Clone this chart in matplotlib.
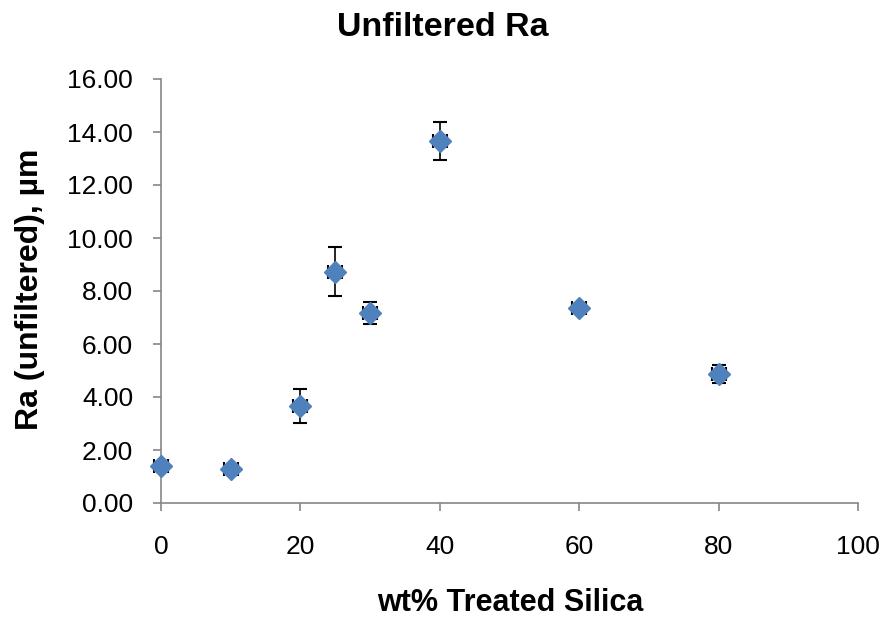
import matplotlib
matplotlib.use("Agg")
import matplotlib.pyplot as plt
from matplotlib.ticker import FormatStrFormatter

plt.rcParams['font.family'] = ['Liberation Sans', 'DejaVu Sans']

wt_silica = [0, 10, 20, 25, 30, 40, 60, 80]
ra_unfiltered = [1.41, 1.28, 3.66, 8.73, 7.16, 13.67, 7.37, 4.86]
ra_err = [0.12, 0.12, 0.64, 0.92, 0.41, 0.71, 0.15, 0.33]
wt_err = [1.0, 1.0, 1.0, 1.0, 1.0, 1.0, 1.0, 1.0]
y_ticks = [0, 2, 4, 6, 8, 10, 12, 14, 16]
x_ticks = [0, 20, 40, 60, 80, 100]

W, H = 886, 621
fig = plt.figure(figsize=(W / 100, H / 100), dpi=100)
ax = fig.add_axes([161 / W, 1 - 503 / H, (858 - 161) / W, (503 - 79) / H])

ax.errorbar(wt_silica, ra_unfiltered, yerr=ra_err, xerr=wt_err, fmt='D',
            color='#4F81BD', markersize=11, ecolor='black', elinewidth=1.2,
            capsize=5, capthick=1.5, zorder=3, clip_on=False)

ax.set_xlim(0, 100)
ax.set_ylim(0, 16)
ax.set_xticks(x_ticks)
ax.set_yticks(y_ticks)
ax.yaxis.set_major_formatter(FormatStrFormatter('%.2f'))

for s in ['top', 'right']:
    ax.spines[s].set_visible(False)
for s in ['left', 'bottom']:
    ax.spines[s].set_color('#868686')
    ax.spines[s].set_linewidth(1.2)

ax.tick_params(axis='both', direction='out', length=6, width=1.2, color='#868686',
               labelsize=19)
ax.tick_params(axis='y', pad=14)
ax.tick_params(axis='x', pad=17)

fig.text(0.5, 1 - 36 / H, 'Unfiltered Ra', fontsize=24.5, fontweight='bold',
         ha='center', va='baseline')
fig.text(510 / W, 1 - 603 / H, 'wt% Treated Silica', fontsize=22,
         fontweight='bold', ha='center', va='center')
fig.text(30 / W, 1 - 289 / H, 'Ra (unfiltered), µm', fontsize=23,
         fontweight='bold', ha='center', va='center', rotation=90)

fig.savefig('out.png', dpi=100)
